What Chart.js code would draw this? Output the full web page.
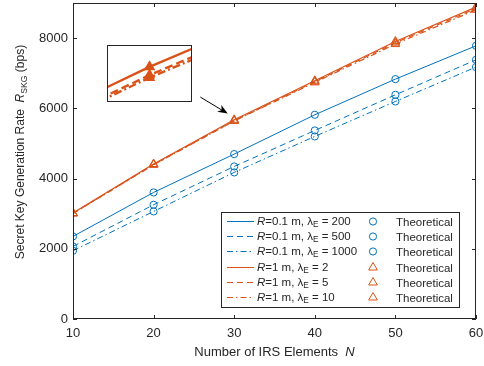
<!DOCTYPE html>
<html lang="en">
<head>
<meta charset="UTF-8">
<title>Secret Key Generation Rate</title>
<style>
    body {
        margin: 0;
        background: #fff;
    }
    .wrap {
        position: relative;
        width: 484px;
        height: 366px;
    }
    #inset {
        position: absolute;
        left: 107px;
        top: 45px;
        width: 85px;
        height: 57px;
        border: 1px solid #262626;
        background: #fff;
        box-sizing: border-box;
    }
    #inset canvas {
        display: block;
    }
</style>
</head>
<body>
<div class="wrap">
    <canvas id="mainChart" width="484" height="366"></canvas>
    <div id="inset"><canvas id="insetChart" width="83" height="55"></canvas></div>
</div>

<script src="https://cdn.jsdelivr.net/npm/chart.js"></script>
<script>
// data
const N = [10, 20, 30, 40, 50, 60];
const blue200 = [2352, 3605, 4697, 5816, 6832, 7781];
const blue500 = [2067, 3254, 4345, 5370, 6385, 7382];
const blue1000 = [1944, 3064, 4175, 5200, 6196, 7175];
const orange2 = [3018, 4413, 5674, 6785, 7904, 8883];
const orange5 = [3010, 4400, 5648, 6760, 7870, 8845];
const orange10 = [3004, 4392, 5640, 6738, 7830, 8806];
const xTicks = [10, 20, 30, 40, 50, 60];
const yTicks = [0, 2000, 4000, 6000, 8000];
const radiusLabels = ['0.1', '0.1', '0.1', '1', '1', '1'];
const lambdaLabels = ['200', '500', '1000', '2', '5', '10'];

const BLUE = '#0072BD';
const ORANGE = '#D95319';
const TXT = '#262626';
const FONT = '"Liberation Sans", Arial, sans-serif';

const series = [blue200, blue500, blue1000, orange2, orange5, orange10];
const colors = [BLUE, BLUE, BLUE, ORANGE, ORANGE, ORANGE];
const dashes = [[], [6, 4], [6, 3, 1.5, 3], [], [6, 4], [6, 3, 1.5, 3]];
const markers = ['circle', 'circle', 'circle', 'triangle', 'triangle', 'triangle'];
const markerSize = { circle: 3.6, triangle: 5 };

function pts(arr) {
    return arr.map((v, i) => ({ x: N[i], y: v }));
}

// markers first so they sit on top of the lines
var datasets = [];
series.forEach((s, i) => {
    datasets.push({
        data: pts(s),
        showLine: false,
        pointStyle: markers[i],
        pointRadius: markerSize[markers[i]],
        pointBorderWidth: 1,
        pointBorderColor: colors[i],
        pointBackgroundColor: 'rgba(0,0,0,0)'
    });
});
series.forEach((s, i) => {
    datasets.push({
        data: pts(s),
        borderColor: colors[i],
        borderWidth: i < 3 ? 1 : 1.2,
        borderDash: dashes[i],
        pointRadius: 0,
        tension: 0
    });
});

// text made of pieces: italic, subscript
function runsWidth(ctx, runs, size) {
    var w = 0;
    runs.forEach(r => {
        var s = r.sub ? size * 0.72 : size;
        ctx.font = (r.it ? 'italic ' : '') + s + 'px ' + FONT;
        w += ctx.measureText(r.t).width;
    });
    return w;
}
function drawRuns(ctx, runs, x, y, size) {
    var cx = x;
    runs.forEach(r => {
        var s = r.sub ? size * 0.72 : size;
        ctx.font = (r.it ? 'italic ' : '') + s + 'px ' + FONT;
        ctx.fillText(r.t, cx, r.sub ? y + size * 0.32 : y);
        cx += ctx.measureText(r.t).width;
    });
}

const arrowFrom = { x: 25.8, y: 6320 };
const arrowTo = { x: 29.2, y: 5850 };

const matlabFrame = {
    id: 'matlabFrame',
    afterDraw(chart) {
        const ctx = chart.ctx;
        const a = chart.chartArea;
        const xs = chart.scales.x, ys = chart.scales.y;
        ctx.save();

        // box and inward ticks
        ctx.strokeStyle = TXT;
        ctx.lineWidth = 1;
        ctx.strokeRect(a.left + 0.5, a.top + 0.5, a.right - a.left - 1, a.bottom - a.top - 1);
        ctx.beginPath();
        xTicks.forEach(v => {
            var p = Math.round(xs.getPixelForValue(v)) + 0.5;
            ctx.moveTo(p, a.bottom); ctx.lineTo(p, a.bottom - 4);
            ctx.moveTo(p, a.top); ctx.lineTo(p, a.top + 4);
        });
        yTicks.forEach(v => {
            var p = Math.round(ys.getPixelForValue(v)) + 0.5;
            ctx.moveTo(a.left, p); ctx.lineTo(a.left + 4, p);
            ctx.moveTo(a.right, p); ctx.lineTo(a.right - 4, p);
        });
        ctx.stroke();

        // axis titles
        ctx.fillStyle = TXT;
        ctx.textBaseline = 'middle';
        var xt = [{ t: 'Number of IRS Elements  ' }, { t: 'N', it: true }];
        var w = runsWidth(ctx, xt, 13);
        drawRuns(ctx, xt, (a.left + a.right) / 2 - w / 2, 352, 13);

        var yt = [{ t: 'Secret Key Generation Rate  ' }, { t: 'R', it: true }, { t: 'SKG', sub: true }, { t: ' (bps)' }];
        w = runsWidth(ctx, yt, 12);
        ctx.save();
        ctx.translate(21, (a.top + a.bottom) / 2 - 9);
        ctx.rotate(-Math.PI / 2);
        drawRuns(ctx, yt, -w / 2, 0, 12);
        ctx.restore();

        // arrow pointing at the zoomed spot
        var x1 = xs.getPixelForValue(arrowFrom.x), y1 = ys.getPixelForValue(arrowFrom.y);
        var x2 = xs.getPixelForValue(arrowTo.x), y2 = ys.getPixelForValue(arrowTo.y);
        var ang = Math.atan2(y2 - y1, x2 - x1);
        var c = Math.cos(ang), s = Math.sin(ang);
        ctx.strokeStyle = '#000';
        ctx.fillStyle = '#000';
        ctx.beginPath();
        ctx.moveTo(x1, y1); ctx.lineTo(x2 - 6 * c, y2 - 6 * s);
        ctx.stroke();
        ctx.beginPath();
        ctx.moveTo(x2, y2);
        ctx.lineTo(x2 - 10 * c + 4 * s, y2 - 10 * s - 4 * c);
        ctx.lineTo(x2 - 7 * c, y2 - 7 * s);
        ctx.lineTo(x2 - 10 * c - 4 * s, y2 - 10 * s + 4 * c);
        ctx.closePath();
        ctx.fill();

        // legend
        var lx = 221, ly = 212, lw = 238, lh = 95;
        ctx.fillStyle = '#fff';
        ctx.fillRect(lx, ly, lw, lh);
        ctx.strokeStyle = TXT;
        ctx.strokeRect(lx + 0.5, ly + 0.5, lw, lh);
        for (var i = 0; i < 6; i++) {
            var cy = Math.round(ly + 9 + i * 15.2) + 0.5;
            ctx.strokeStyle = colors[i];
            ctx.lineWidth = 1;
            ctx.setLineDash(dashes[i]);
            ctx.beginPath();
            ctx.moveTo(lx + 6, cy); ctx.lineTo(lx + 33, cy);
            ctx.stroke();
            ctx.setLineDash([]);

            ctx.fillStyle = TXT;
            ctx.textBaseline = 'middle';
            drawRuns(ctx, [
                { t: 'R', it: true }, { t: '=' + radiusLabels[i] + ' m, \u03bb' },
                { t: 'E', sub: true }, { t: ' = ' + lambdaLabels[i] }
            ], lx + 36, cy, 11.5);

            ctx.strokeStyle = colors[i];
            ctx.fillStyle = 'rgba(0,0,0,0)';
            Chart.helpers.drawPoint(ctx, {
                pointStyle: markers[i],
                radius: markerSize[markers[i]],
                rotation: 0,
                borderWidth: 1.4
            }, lx + 152, cy);

            ctx.fillStyle = TXT;
            ctx.font = '11.5px ' + FONT;
            ctx.fillText('Theoretical', lx + 175, cy + 1);
        }
        ctx.restore();
    }
};

function fixAxis(size, vertical) {
    return function (scale) {
        if (vertical) scale.width = size; else scale.height = size;
        scale.paddingTop = 0; scale.paddingBottom = 0;
        scale.paddingLeft = 0; scale.paddingRight = 0;
    };
}

new Chart(document.getElementById('mainChart'), {
    type: 'line',
    data: { datasets: datasets },
    options: {
        responsive: false,
        animation: false,
        layout: { autoPadding: false, padding: { top: 3, right: 8, left: 0, bottom: 0 } },
        plugins: { legend: { display: false }, tooltip: { enabled: false } },
        scales: {
            x: {
                type: 'linear', min: 10, max: 60,
                afterBuildTicks: s => { s.ticks = xTicks.map(v => ({ value: v })); },
                afterFit: fixAxis(47, false),
                grid: { display: false, drawTicks: false },
                border: { display: false },
                ticks: { color: TXT, font: { family: FONT, size: 13 }, padding: 7, maxRotation: 0 }
            },
            y: {
                min: 0, max: 9000,
                afterBuildTicks: s => { s.ticks = yTicks.map(v => ({ value: v })); },
                afterFit: fixAxis(73, true),
                grid: { display: false, drawTicks: false },
                border: { display: false },
                ticks: {
                    color: TXT, font: { family: FONT, size: 13 }, padding: 5,
                    callback: v => String(v)
                }
            }
        }
    },
    plugins: [matlabFrame]
});

// zoomed view around N = 30 for the R = 1 m curves
var insetSets = [];
[3, 4, 5].forEach(i => {
    insetSets.push({
        data: pts(series[i]),
        showLine: false,
        pointStyle: 'triangle',
        pointRadius: 4.5,
        pointBorderWidth: 2.2,
        pointBorderColor: ORANGE,
        pointBackgroundColor: ORANGE
    });
});
[3, 4, 5].forEach(i => {
    insetSets.push({
        data: pts(series[i]),
        borderColor: ORANGE,
        borderWidth: 2.4,
        borderDash: i === 3 ? [] : (i === 4 ? [8, 4] : [8, 3, 2, 3]),
        pointRadius: 0,
        tension: 0
    });
});

new Chart(document.getElementById('insetChart'), {
    type: 'line',
    data: { datasets: insetSets },
    options: {
        responsive: false,
        animation: false,
        layout: { autoPadding: false, padding: 0 },
        plugins: { legend: { display: false }, tooltip: { enabled: false } },
        scales: {
            x: { type: 'linear', min: 29.5, max: 30.5, display: false },
            y: { min: 5566, max: 5740, display: false }
        }
    }
});
</script>
</body>
</html>
